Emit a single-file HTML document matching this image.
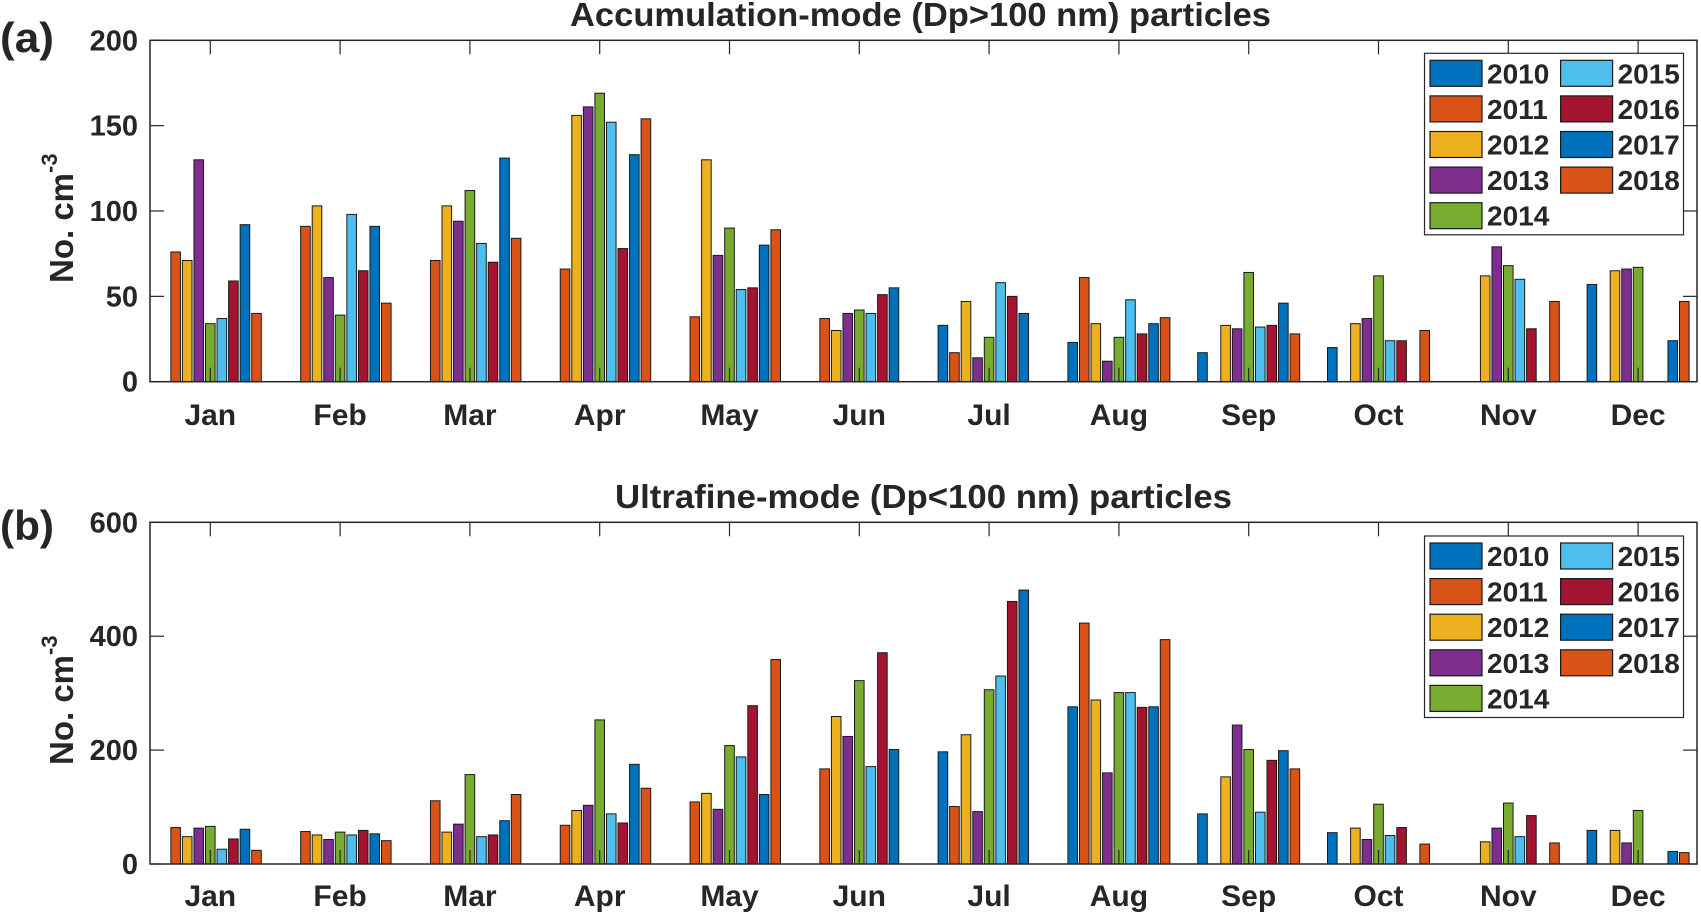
<!DOCTYPE html>
<html><head><meta charset="utf-8">
<style>
html,body{margin:0;padding:0;background:#fff;}
svg{display:block;}
text{font-family:"Liberation Sans",Arial,sans-serif;font-weight:bold;fill:#262626;}
</style></head>
<body>
<svg id="chart" width="1701" height="915" viewBox="0 0 1701 915" xmlns="http://www.w3.org/2000/svg">
<text x="0" y="52" font-size="42" textLength="54" lengthAdjust="spacingAndGlyphs" fill="#000">(a)</text>
<text x="0" y="540" font-size="42" textLength="54" lengthAdjust="spacingAndGlyphs" fill="#000">(b)</text>
</svg>
<script>
const months = ["Jan","Feb","Mar","Apr","May","Jun","Jul","Aug","Sep","Oct","Nov","Dec"];
const years = ["2010","2011","2012","2013","2014","2015","2016","2017","2018"];
const colors = ["#0072BD","#D95319","#EDB120","#7E2F8E","#77AC30","#4DBEEE","#A2142F","#0072BD","#D95319"];
// Accumulation-mode values: rows = months, cols = years 2010..2018 (null = no data)
const accJan = [null,76,71,130,34,37,59,92,40];
const accFeb = [null,91,103,61,39,98,65,91,46];
const accMar = [null,71,103,94,112,81,70,131,84];
const accApr = [null,66,156,161,169,152,78,133,154];
const accMay = [null,38,130,74,90,54,55,80,89];
const accJun = [null,37,30,40,42,40,51,55,null];
const accJul = [33,17,47,14,26,58,50,40,null];
const accAug = [23,61,34,12,26,48,28,34,37.5];
const accSep = [17,null,33,31,64,32,33,46,28];
const accOct = [20,null,34,37,62,24,24,null,30];
const accNov = [null,null,62,79,68,60,31,null,47];
const accDec = [57,null,65,66,67,null,null,24,47];
// Ultrafine-mode values
const ufJan = [null,64,48,63,66,26,44,61,24];
const ufFeb = [null,57,51,43,56,51,59,53,41];
const ufMar = [null,111,56,70,157,48,51,76,122];
const ufApr = [null,68,94,103,253,88,72,175,133];
const ufMay = [null,109,124,96,208,188,278,122,359];
const ufJun = [null,167,259,224,322,171,371,201,null];
const ufJul = [197,101,227,92,306,330,461,481,null];
const ufAug = [276,423,288,160,301,301,275,276,394];
const ufSep = [88,null,153,244,201,91,182,199,167];
const ufOct = [55,null,63,43,105,50,64,null,35];
const ufNov = [null,null,39,63,107,48,85,null,37];
const ufDec = [59,null,59,37,94,null,null,22,20];
const accTicks = [0,50,100,150,200];
const ufTicks = [0,200,400,600];

const accData = [accJan,accFeb,accMar,accApr,accMay,accJun,accJul,accAug,accSep,accOct,accNov,accDec];
const ufData = [ufJan,ufFeb,ufMar,ufApr,ufMay,ufJun,ufJul,ufAug,ufSep,ufOct,ufNov,ufDec];

const NS = "http://www.w3.org/2000/svg";
const svg = document.getElementById("chart");
function mk(tag, attrs, parent){
  const e = document.createElementNS(NS, tag);
  for (const k in attrs) e.setAttribute(k, attrs[k]);
  (parent||svg).appendChild(e);
  return e;
}
const X0 = 150, X1 = 1697;
const monthStep = 129.8, janX = 210.3, barStep = 11.55, barW = 9.6;
function xMonth(i){ return janX + i*monthStep; }

function panel(cfg){
  const g = mk("g", {});
  
  
  const yScale = v => cfg.y0 - (v/cfg.max)*(cfg.y0 - cfg.yTop);
  cfg.data.forEach((row, m) => {
    row.forEach((v, k) => {
      if (v === null) return;
      const x = xMonth(m) + (k-4)*barStep - barW/2;
      const r = mk("rect", {x:x, y:yScale(v), width:barW, height:cfg.y0 - yScale(v), fill:colors[k], stroke:"#1a1a1a", "stroke-width":1}, g);
      
      
    });
  });
  const box = mk("rect", {x:X0, y:cfg.yTop, width:X1-X0, height:cfg.y0-cfg.yTop, fill:"none", stroke:"#262626", "stroke-width":1.5}, g);
  
  
  months.forEach((mn, i) => {
    const x = xMonth(i);
    mk("line", {x1:x, x2:x, y1:cfg.y0, y2:cfg.y0-14, stroke:"#262626", "stroke-width":1.2}, g);
    mk("line", {x1:x, x2:x, y1:cfg.yTop, y2:cfg.yTop+14, stroke:"#262626", "stroke-width":1.2}, g);
    const t = mk("text", {x:x, y:cfg.labelY, "font-size":30, "text-anchor":"middle"}, g);
    t.textContent = mn;
    
    
  });
  cfg.ticks.forEach(v => {
    const y = yScale(v);
    mk("line", {x1:X0, x2:X0+14, y1:y, y2:y, stroke:"#262626", "stroke-width":1.2}, g);
    mk("line", {x1:X1, x2:X1-14, y1:y, y2:y, stroke:"#262626", "stroke-width":1.2}, g);
    const t = mk("text", {x:138, y:y+10, "font-size":29, "text-anchor":"end"}, g);
    t.textContent = String(v);
    
    
  });
  const tt = mk("text", {x:cfg.titleX, y:cfg.titleY, "font-size":33, textLength:cfg.titleW, lengthAdjust:"spacingAndGlyphs", fill:"#000"}, g);
  tt.textContent = cfg.title;
  
  
  const yl = mk("text", {transform:"translate(73," + cfg.ylBottom + ") rotate(-90)", "font-size":33, fill:"#000"}, g);
  
  
  const s1 = mk("tspan", {}, yl); s1.textContent = "No. cm";
  const s2 = mk("tspan", {dy:-16, "font-size":22}, yl); s2.textContent = "-3";
  const lg = mk("g", {}, g);
  
  
  mk("rect", {x:1424.5, y:cfg.legTop, width:259, height:181.5, fill:"#fff", stroke:"#262626", "stroke-width":1.2}, lg);
  years.forEach((yr, k) => {
    const col = k < 5 ? 0 : 1, row = k < 5 ? k : k-5;
    const cy = cfg.legTop + 20 + row*35.6;
    const sx = col ? 1560.6 : 1430;
    const e = mk("g", {}, lg);
    
    
    mk("rect", {x:sx, y:cy-13, width:52, height:26, fill:colors[k], stroke:"#1a1a1a", "stroke-width":1.2}, e);
    const t = mk("text", {x:sx+57, y:cy+10, "font-size":28, fill:"#000"}, e);
    t.textContent = yr;
  });
}

panel({name:"accumulation-panel", data:accData, ticks:accTicks, max:200, yTop:40.3, y0:381.7, labelY:425,
  title:"Accumulation-mode (Dp>100 nm) particles", titleX:570, titleY:26, titleW:701, ylBottom:283, legTop:53.3});
panel({name:"ultrafine-panel", data:ufData, ticks:ufTicks, max:600, yTop:522.3, y0:864, labelY:906,
  title:"Ultrafine-mode (Dp<100 nm) particles", titleX:615, titleY:508, titleW:617, ylBottom:765, legTop:536});
</script>
</body></html>
